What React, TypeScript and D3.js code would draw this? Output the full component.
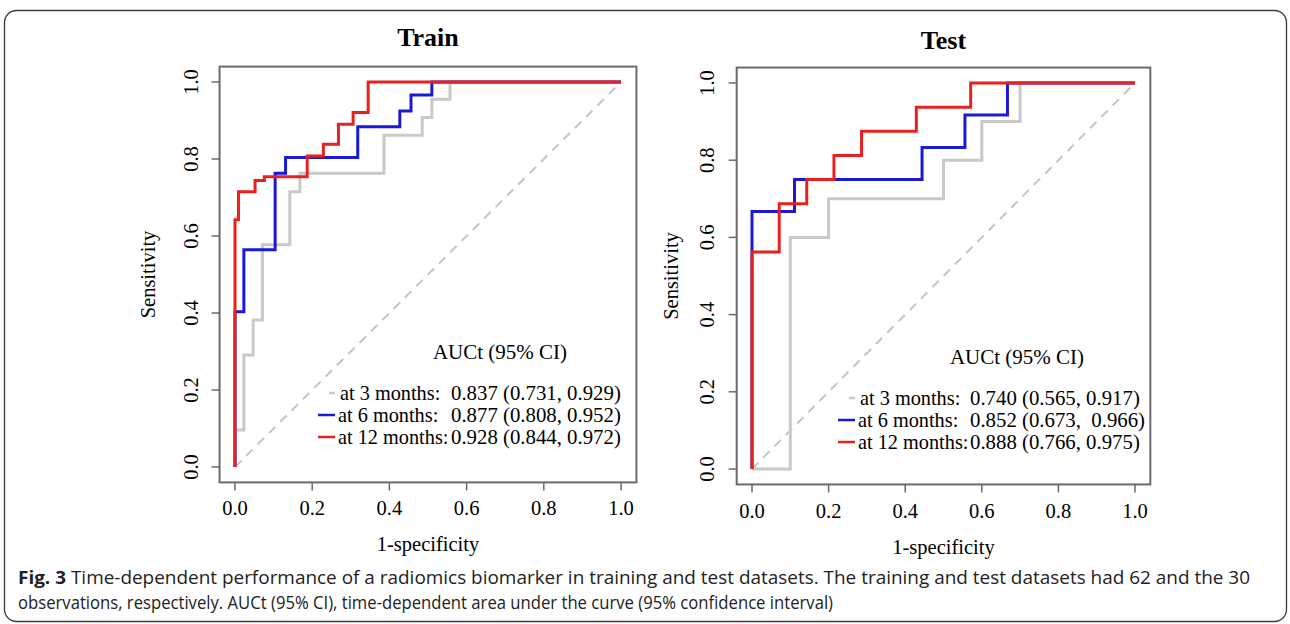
import React from "react";
import * as d3 from "d3";

// ROC step points: [1-specificity, sensitivity]
const train3m = [[0, 0], [0, 0.096], [0.023, 0.291], [0.047, 0.382], [0.071, 0.577], [0.142, 0.715], [0.168, 0.763], [0.386, 0.862], [0.485, 0.908], [0.51, 0.955], [0.557, 1], [1, 1]];
const train6m = [[0, 0], [0, 0.403], [0.023, 0.564], [0.104, 0.763], [0.131, 0.804], [0.318, 0.884], [0.427, 0.925], [0.456, 0.966], [0.51, 1], [1, 1]];
const train12m = [[0, 0], [0, 0.642], [0.009, 0.715], [0.052, 0.744], [0.076, 0.754], [0.187, 0.808], [0.229, 0.838], [0.268, 0.89], [0.306, 0.921], [0.345, 1], [1, 1]];

const test3m = [[0, 0], [0.1, 0.6], [0.2, 0.7], [0.5, 0.8], [0.6, 0.9], [0.7, 1], [1, 1]];
const test6m = [[0, 0], [0, 0.667], [0.111, 0.75], [0.444, 0.833], [0.556, 0.917], [0.667, 1], [1, 1]];
const test12m = [[0, 0], [0, 0.5625], [0.071, 0.6875], [0.143, 0.75], [0.214, 0.8125], [0.286, 0.875], [0.429, 0.9375], [0.571, 1], [1, 1]];

const seriesLabels = ["at 3 months:", "at 6 months:", "at 12 months:"];
const seriesColors = ["#c9c9c9", "#1a1ad6", "#e8201f"];
const trainAuc = ["0.837 (0.731, 0.929)", "0.877 (0.808, 0.952)", "0.928 (0.844, 0.972)"];
const testAuc = ["0.740 (0.565, 0.917)", "0.852 (0.673,  0.966)", "0.888 (0.766, 0.975)"];
const ticks = [0, 0.2, 0.4, 0.6, 0.8, 1.0];

const serif = "'Liberation Serif', 'Times New Roman', serif";

type PanelProps = {
  title: string;
  curves: number[][][];
  auc: string[];
  xr: [number, number];
  yr: [number, number];
  titleY: number;
  xTickY: number;
  xLabY: number;
  yTickX: number;
  yLabX: number;
  legX: number;
  valX: number;
  legTitleX: number;
  legTitleY: number;
  rowY: number[];
};

const Panel = (p: PanelProps) => {
  const x = d3.scaleLinear().domain([0, 1]).range(p.xr);
  const y = d3.scaleLinear().domain([0, 1]).range(p.yr);
  const padX = (p.xr[1] - p.xr[0]) * 0.04;
  const padY = (p.yr[0] - p.yr[1]) * 0.04;
  const bx0 = p.xr[0] - padX, bx1 = p.xr[1] + padX;
  const by0 = p.yr[1] - padY, by1 = p.yr[0] + padY;
  const line = d3
    .line<number[]>()
    .x((d) => x(d[0]))
    .y((d) => y(d[1]))
    .curve(d3.curveStepAfter);
  const axisColor = "#6a6a6a";

  return (
    <g>
      <text x={(bx0 + bx1) / 2} y={p.titleY} textAnchor="middle" fontFamily={serif} fontWeight="bold" fontSize={26}>
        {p.title}
      </text>
      {/* reference diagonal */}
      <line x1={x(0)} y1={y(0)} x2={x(1)} y2={y(1)} stroke="#c4c4c4" strokeWidth={2} strokeDasharray="9 7" />
      {p.curves.map((c, i) => (
        <path key={i} d={line(c) || ""} fill="none" stroke={seriesColors[i]} strokeWidth={3} />
      ))}
      <rect x={bx0} y={by0} width={bx1 - bx0} height={by1 - by0} fill="none" stroke={axisColor} strokeWidth={2} />
      {ticks.map((t) => (
        <g key={"x" + t}>
          <line x1={x(t)} x2={x(t)} y1={by1} y2={by1 + 8} stroke={axisColor} strokeWidth={1.5} />
          <text x={x(t)} y={p.xTickY} textAnchor="middle" fontFamily={serif} fontSize={20.5}>
            {t.toFixed(1)}
          </text>
        </g>
      ))}
      {ticks.map((t) => (
        <g key={"y" + t}>
          <line x1={bx0 - 8} x2={bx0} y1={y(t)} y2={y(t)} stroke={axisColor} strokeWidth={1.5} />
          <text transform={`translate(${p.yTickX},${y(t)}) rotate(-90)`} textAnchor="middle" fontFamily={serif} fontSize={20.5}>
            {t.toFixed(1)}
          </text>
        </g>
      ))}
      <text x={(bx0 + bx1) / 2} y={p.xLabY} textAnchor="middle" fontFamily={serif} fontSize={20.5}>
        1-specificity
      </text>
      <text transform={`translate(${p.yLabX},${(by0 + by1) / 2}) rotate(-90)`} textAnchor="middle" fontFamily={serif} fontSize={20.5}>
        Sensitivity
      </text>
      {/* legend */}
      <text x={p.legTitleX} y={p.legTitleY} textAnchor="middle" fontFamily={serif} fontSize={21}>
        AUCt (95% CI)
      </text>
      {seriesLabels.map((lab, i) => (
        <g key={lab}>
          <line
            x1={i === 0 ? p.legX - 9 : p.legX - 20}
            x2={p.legX - 3}
            y1={p.rowY[i] - 7}
            y2={p.rowY[i] - 7}
            stroke={seriesColors[i]}
            strokeWidth={2.5}
          />
          <text x={i === 0 ? p.legX + 2 : p.legX} y={p.rowY[i]} fontFamily={serif} fontSize={20.3}>
            {lab}
          </text>
          <text x={p.valX} y={p.rowY[i]} fontFamily={serif} fontSize={20.8} style={{ whiteSpace: "pre" }}>
            {p.auc[i]}
          </text>
        </g>
      ))}
    </g>
  );
};

const App = () => {
  return (
    <div style={{ position: "absolute", left: 0, top: 0 }}>
      <svg width={1290} height={624} style={{ display: "block", background: "#fff" }}>
        <rect x={4.5} y={10.5} width={1282} height={611} rx={12} fill="#fff" stroke="#3a3a3a" strokeWidth={1.3} />
        <Panel
          title="Train"
          curves={[train3m, train6m, train12m]}
          auc={trainAuc}
          xr={[235, 621]}
          yr={[467, 82]}
          titleY={46}
          xTickY={515}
          xLabY={551}
          yTickX={198}
          yLabX={155}
          legX={338}
          valX={451}
          legTitleX={500}
          legTitleY={359}
          rowY={[400, 422, 444]}
        />
        <Panel
          title="Test"
          curves={[test3m, test6m, test12m]}
          auc={testAuc}
          xr={[752, 1135]}
          yr={[469, 83]}
          titleY={49}
          xTickY={518}
          xLabY={554}
          yTickX={714}
          yLabX={678}
          legX={858}
          valX={970}
          legTitleX={1017}
          legTitleY={364}
          rowY={[405, 427, 449]}
        />
        <text x={18} y={584} fontFamily="'Open Sans', 'Noto Sans', sans-serif" fontSize={17.5} textLength={1232} lengthAdjust="spacingAndGlyphs" fill="#222">
          <tspan fontWeight="bold">Fig. 3</tspan>
          <tspan>{"  Time-dependent performance of a radiomics biomarker in training and test datasets. The training and test datasets had 62 and the 30"}</tspan>
        </text>
        <text x={18} y={609} fontFamily="'Open Sans', 'Noto Sans', sans-serif" fontSize={17.5} textLength={815} lengthAdjust="spacingAndGlyphs" fill="#222">
          observations, respectively. AUCt (95% CI), time-dependent area under the curve (95% confidence interval)
        </text>
      </svg>
    </div>
  );
};

export default App;
